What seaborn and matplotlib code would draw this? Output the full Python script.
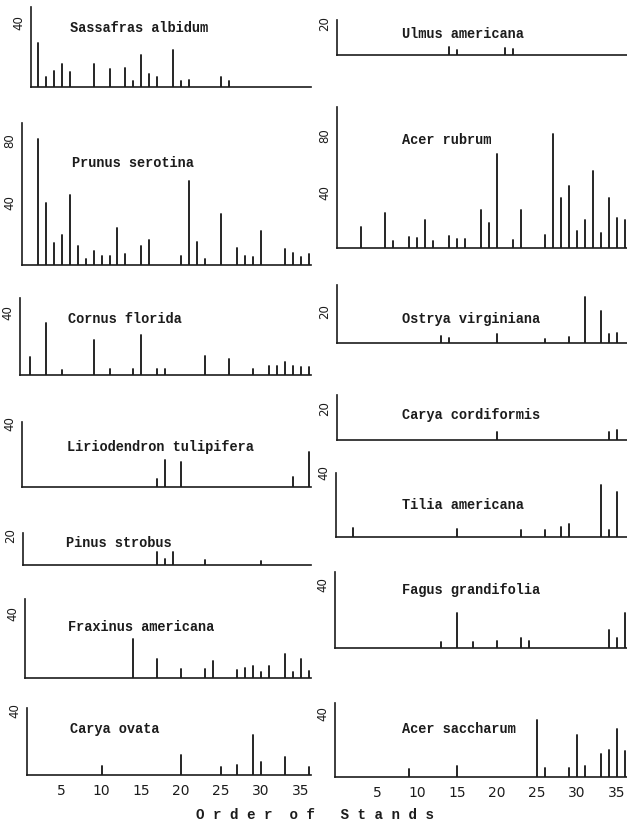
import numpy as np
import pandas as pd
import matplotlib
matplotlib.use("Agg")
import matplotlib.pyplot as plt
import seaborn as sns

# ---- data: stems per stand (order of stands 1..36) ----
sassafras_stands = [2, 3, 4, 5, 6, 9, 11, 13, 14, 15, 16, 17, 19, 20, 21, 25, 26]
sassafras_values = [27, 6, 10, 14, 9, 14, 11, 12, 4, 20, 8, 6, 23, 4, 4.5, 6, 4]

prunus_stands = [2, 3, 4, 5, 6, 7, 8, 9, 10, 11, 12, 13, 15, 16, 20, 21, 22, 23, 25, 27,
                 28, 29, 30, 33, 34, 35, 36]
prunus_values = [81, 40, 14, 19, 45, 12, 4, 9, 6, 6, 24, 7, 12, 16, 6, 54, 15, 4, 33, 11,
                 6, 5, 22, 10, 8, 5, 7]

cornus_stands = [1, 3, 5, 9, 11, 14, 15, 17, 18, 23, 26, 29, 31, 32, 33, 34, 35, 36]
cornus_values = [11.5, 33, 3, 22, 4, 4, 25.5, 4, 4, 12, 10, 4, 6, 6, 8, 6, 5, 5]

lirio_stands = [17, 18, 20, 34, 36]
lirio_values = [5, 17, 16, 6.5, 22]

pinus_stands = [17, 18, 19, 23, 30]
pinus_values = [9, 4, 9, 3.5, 3]

fraxinus_stands = [14, 17, 20, 23, 24, 27, 28, 29, 30, 31, 33, 34, 35, 36]
fraxinus_values = [24, 12, 5.6, 5.6, 10.4, 5, 6, 7.6, 4, 7.2, 15, 4, 12, 4.6]

carya_ovata_stands = [10, 20, 25, 27, 29, 30, 33, 36]
carya_ovata_values = [5.5, 12.6, 5.3, 6.5, 25, 8.2, 11.4, 4.9]

ulmus_stands = [14, 15, 21, 22]
ulmus_values = [5.3, 3.2, 4.2, 3.6]

acer_rubrum_stands = [3, 6, 7, 9, 10, 11, 12, 14, 15, 16, 18, 19, 20, 22, 23, 26, 27, 28,
                      29, 30, 31, 32, 33, 34, 35, 36]
acer_rubrum_values = [15.4, 24.9, 5.5, 8.3, 7.1, 20.2, 5.5, 9, 6.4, 6.7, 27.3, 17.8, 67.2,
                      5.9, 27.3, 9.5, 81.5, 35.6, 44.4, 12.4, 20.2, 55.1, 10.7, 36.1, 21.4, 20.2]

ostrya_stands = [13, 14, 20, 26, 29, 31, 33, 34, 35]
ostrya_values = [4.8, 3.2, 5.9, 2.5, 3.8, 29, 20.4, 5.9, 6.3]

carya_cord_stands = [20, 34, 35]
carya_cord_values = [4.8, 4.8, 6.3]

tilia_stands = [2, 15, 23, 26, 28, 29, 33, 34, 35]
tilia_values = [5.6, 5.2, 4.5, 4.5, 6.6, 8.2, 32.4, 4.5, 28.2]

fagus_stands = [13, 15, 17, 20, 23, 24, 34, 35, 36]
fagus_values = [4.2, 22.5, 4, 4.6, 6.3, 4.6, 11.6, 6.7, 22.5]

acer_sacch_stands = [9, 15, 25, 26, 29, 30, 31, 33, 34, 35, 36]
acer_sacch_values = [5, 7.1, 35.8, 5.6, 5.6, 26.5, 7.1, 14.6, 17.1, 30, 16.5]

x_tick_values = [5, 10, 15, 20, 25, 30, 35]
x_axis_title = "O r d e r  o f   S t a n d s"

# ---- page geometry (pixels) ----
W, H = 627, 821
INK = "#1c1c1c"
MONO = "Liberation Mono"

sns.set_style("white")
plt.rcParams["font.family"] = ["DejaVu Sans"]

fig = plt.figure(figsize=(W / 100, H / 100), dpi=100)
fig.patch.set_facecolor("white")

# stand -> pixel mapping for each column: x = x1 + step * (stand - 1)
COLS = {
    "L": dict(x1=29.9, step=7.962, right=311.0),
    "R": dict(x1=345.1, step=7.984, right=627.0),
}

# (title, stands, values, column, spine_x, baseline_y, top_y, px_per_unit, yticks, title_xy, show_x)
panels = [
    ("Sassafras albidum", sassafras_stands, sassafras_values, "L", 30.7, 87, 7, 1.617, [40], (70, 28), False),
    ("Prunus serotina", prunus_stands, prunus_values, "L", 22, 265, 123, 1.557, [40, 80], (72, 163), False),
    ("Cornus florida", cornus_stands, cornus_values, "L", 19.5, 375, 298, 1.57, [40], (68, 319), False),
    ("Liriodendron tulipifera", lirio_stands, lirio_values, "L", 21.7, 487, 421.7, 1.583, [40], (67, 447), False),
    ("Pinus strobus", pinus_stands, pinus_values, "L", 22.7, 565, 533.3, 1.45, [20], (66, 543), False),
    ("Fraxinus americana", fraxinus_stands, fraxinus_values, "L", 25, 678, 599.3, 1.62, [40], (68, 627), False),
    ("Carya ovata", carya_ovata_stands, carya_ovata_values, "L", 26.7, 775, 708, 1.6, [40], (70, 729), True),
    ("Ulmus americana", ulmus_stands, ulmus_values, "R", 336.7, 55, 20, 1.583, [20], (402, 34), False),
    ("Acer rubrum", acer_rubrum_stands, acer_rubrum_values, "R", 337.3, 248.3, 106.7, 1.403, [40, 80], (402, 140), False),
    ("Ostrya virginiana", ostrya_stands, ostrya_values, "R", 336.7, 343.3, 285, 1.583, [20], (402, 319), False),
    ("Carya cordiformis", carya_cord_stands, carya_cord_values, "R", 336.7, 440, 395, 1.583, [20], (402, 415), False),
    ("Tilia americana", tilia_stands, tilia_values, "R", 336, 537.3, 472.5, 1.617, [40], (402, 505), False),
    ("Fagus grandifolia", fagus_stands, fagus_values, "R", 335, 648.3, 571.7, 1.583, [40], (402, 590), False),
    ("Acer saccharum", acer_sacch_stands, acer_sacch_values, "R", 335, 777.3, 702.7, 1.6, [40], (402, 729), True),
]


def draw_stems(ax, stands, values):
    """Vertical stems from zero up to each stand's value."""
    df = pd.DataFrame({
        "stand": np.repeat(np.asarray(stands, dtype=float), 2),
        "value": np.ravel([[0.0, v] for v in values]),
    })
    sns.lineplot(data=df, x="stand", y="value", units="stand", estimator=None,
                 sort=False, color=INK, lw=1.35, ax=ax, legend=False)


for (title, stands, values, col, spine_x, base_y, top_y, ppu, yticks, txy, show_x) in panels:
    c = COLS[col]
    left, right = spine_x, c["right"]
    ax = fig.add_axes([left / W, 1 - base_y / H, (right - left) / W, (base_y - top_y) / H])
    ax.set_facecolor("none")
    draw_stems(ax, stands, values)

    s_left = (left - c["x1"]) / c["step"] + 1
    s_right = (right - c["x1"]) / c["step"] + 1
    ax.set_xlim(s_left, s_right)
    ax.set_ylim(0, (base_y - top_y) / ppu)

    for side in ("top", "right"):
        ax.spines[side].set_visible(False)
    for side in ("left", "bottom"):
        ax.spines[side].set_color(INK)
        ax.spines[side].set_linewidth(1.2)

    ax.set_yticks(yticks)
    ax.set_yticklabels([str(t) for t in yticks], rotation=90, va="center",
                       fontsize=8.5, color=INK)
    ax.tick_params(axis="y", direction="out", length=2.5, width=1.0, pad=1.5, colors=INK)

    if show_x:
        ax.set_xticks(x_tick_values)
        ax.set_xticklabels([str(t) for t in x_tick_values], fontsize=10, color=INK)
        ax.tick_params(axis="x", direction="inout", length=5, width=1.0, pad=4, colors=INK)
    else:
        ax.set_xticks([])
    ax.set_xlabel("")
    ax.set_ylabel("")

    fig.text(txy[0] / W, 1 - txy[1] / H, title, ha="left", va="center",
             family=MONO, fontweight="bold", fontsize=9.8, color=INK)

fig.text(195.75 / W, 1 - 815 / H, x_axis_title, ha="left", va="center",
         family=MONO, fontweight="bold", fontsize=10.2, color=INK)

fig.savefig("out.png", dpi=100, facecolor="white")
